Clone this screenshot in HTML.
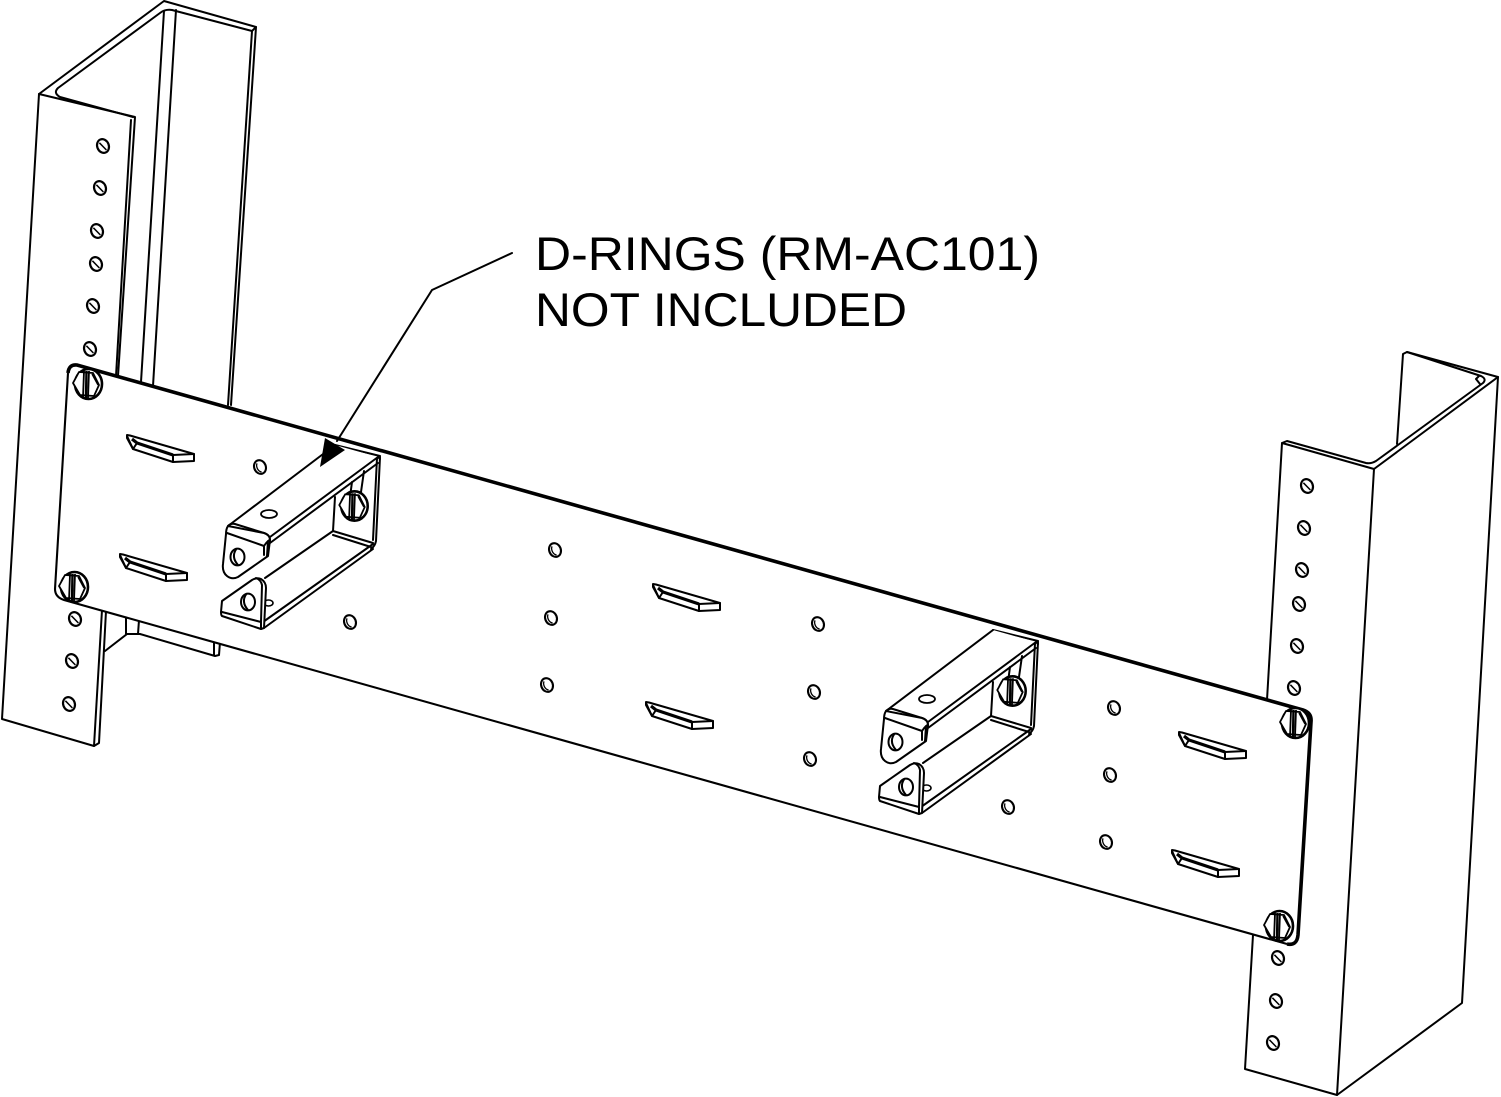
<!DOCTYPE html>
<html>
<head>
<meta charset="utf-8">
<style>
html,body{margin:0;padding:0;background:#fff;width:1501px;height:1097px;overflow:hidden}
svg{display:block;position:absolute;left:0;top:0}
.l{fill:none;stroke:#000;stroke-width:2;stroke-linejoin:round;stroke-linecap:round}
.f{fill:#fff;stroke:#000;stroke-width:2;stroke-linejoin:round}
.t{font-family:"Liberation Sans",Arial,sans-serif;font-size:47px;fill:#000}
</style>
</head>
<body>
<svg width="1501" height="1097" viewBox="0 0 1501 1097" xmlns="http://www.w3.org/2000/svg">
<defs>
  <g id="rh">
    <ellipse cx="0" cy="0" rx="5.8" ry="7" transform="rotate(-22)" fill="#fff" stroke="#000" stroke-width="2.2"/>
    <path d="M-3.6,-3.2 L3.4,4" fill="none" stroke="#000" stroke-width="1.5"/>
  </g>
  <g id="ph">
    <ellipse cx="0" cy="0" rx="5.8" ry="7" transform="rotate(-22)" fill="#fff" stroke="#000" stroke-width="2.1"/>
    <path d="M-3,-3.6 A5,6 -22 0 0 1.6,5" fill="none" stroke="#000" stroke-width="1.3"/>
  </g>
  <g id="sl">
    <path class="f" d="M0,0 L3,0.5 L67,19 L67,26 L46,27 L6,14 L0,3 Z"/>
    <path class="l" d="M0,1 L6,14 M46,20 L46,27 M10,8 L6,14"/>
    <path d="M5,4 L10,8 L46,20" fill="none" stroke="#000" stroke-width="3.2"/>
    <path class="l" d="M46,20 L67,19"/>
  </g>
  <g id="sc">
    <ellipse cx="1.5" cy="0" rx="13.5" ry="15" fill="#fff" stroke="#000" stroke-width="2.6"/>
    <path d="M-14,-1 L-8,-12 L6,-11 L12,1 L7,12 L-7,11 Z" fill="#fff" stroke="#000" stroke-width="1.8" stroke-linejoin="round"/>
    <path d="M-3,-13 L-4,14 M2,-13 L1,14" fill="none" stroke="#000" stroke-width="1.8"/>
    <path d="M-0.5,-13 L-1,14" fill="none" stroke="#000" stroke-width="2.4"/>
    <path d="M5,-10 L11,1" fill="none" stroke="#000" stroke-width="1.4"/>
  </g>
  <g id="br">
    <path class="l" d="M352,482 L350,497 M364,471 L361,492"/>
    <use href="#sc" transform="translate(353,506) scale(.98)"/>
    <path class="l" d="M335,445 L380,456 M337,449 L377,459"/>
    <path d="M228,526 L335,445 L378,457 L270,536 L270,540 L228,533 Z" fill="#fff"/>
    <path class="l" d="M228,526 L335,445"/>
    <path class="l" d="M228,526 Q231,523 235,524 L264,533 Q270,535 270,541"/>
    <path class="l" d="M270,537 L378,457 L380,459 M270,543 L378,463"/>
    <ellipse cx="269" cy="514" rx="8" ry="4" fill="#fff" stroke="#000" stroke-width="1.800"/>
    <path class="f" d="M228,526 Q226,529 226,534 L223,564 Q222,572 227,576 Q232,580 238,577 L268,556 L270,540 Q270,535 264,533 Z"/>
    <path class="l" d="M227,533 L264,546 L264,555 M264,546 Q268,540 270,540 M268,541 L267,556"/>
    <ellipse cx="237.500" cy="557" rx="7" ry="8.400" fill="#fff" stroke="#000" stroke-width="2"/>
    <path class="l" d="M236,549.500 Q231,557 238,565"/>
    <path class="l" d="M380,457 L376,541 Q375,546 371,549 M377,458 L373,540"/>
    <path class="l" d="M335,497 L333,531 L373,543 M333,535 L371,547"/>
    <path class="l" d="M333,531 L265,578 M373,544 L263,622 M373,549 L264,628"/>
    <ellipse cx="268.500" cy="603" rx="4.500" ry="3" fill="#fff" stroke="#000" stroke-width="1.600"/>
    <path class="f" d="M222,601 L252,580 Q257,577 261,579 Q266,582 266,588 L264,628 L261,629 L222,616 Q221,615 221,612 Z"/>
    <path class="l" d="M222,612 L261,622 L261,629 M261,622 L262,585 Q261,580 256,578"/>
    <ellipse cx="248" cy="602" rx="7" ry="8.400" fill="#fff" stroke="#000" stroke-width="2"/>
    <path class="l" d="M246,594.500 Q241,602 248,610"/>
  </g>
</defs>

<rect width="1501" height="1097" fill="#fff"/>

<!-- LEFT RACK -->
<path class="l" d="M39,94 L164,1 L256,27 L231,405"/>
<path class="l" d="M39,94 L135,117 L118,376"/>
<path class="l" d="M39,94 L2,719 L94,746 L99,743 L106,611"/>
<path class="l" d="M94,746 L102,610"/>
<path class="l" d="M131,120 L116,376"/>
<path class="l" d="M133,117 L60,97 Q53,93 58,88 L160,13 Q165,9 172,10 L252,31 L256,27"/>
<path class="l" d="M252,31 L228,405"/>
<path class="l" d="M164,11 L141,382 M176,10 L153,386"/>
<path class="l" d="M105,651 L127,634 L140,634 L215,656 L219,655 L220,642 M126,616 L126,634 M139,620 L138,634 M214,640 L214,655"/>

<use href="#rh" x="103" y="146"/><use href="#rh" x="100" y="188"/><use href="#rh" x="97" y="231"/>
<use href="#rh" x="96" y="264"/><use href="#rh" x="93" y="306"/><use href="#rh" x="90" y="349"/>
<use href="#rh" x="75" y="619"/><use href="#rh" x="72" y="661"/><use href="#rh" x="69" y="704"/>

<!-- RIGHT RACK -->
<path class="l" d="M1267,700 L1282,443 L1287,441 L1366,463 Q1371,464 1376,461 L1483,383 Q1487,379 1481,376 L1407,352 L1403,354 L1397,444"/>
<path class="l" d="M1282,443 L1374,469 L1498,377 L1407,352"/>
<path class="l" d="M1374,469 L1337,1095 L1462,1003 L1498,377"/>
<path class="l" d="M1479,376 L1476,379 L1480,384"/>
<path class="l" d="M1253,935 L1245,1069 L1337,1095"/>
<use href="#rh" x="1307" y="486"/><use href="#rh" x="1304" y="528"/><use href="#rh" x="1302" y="570"/>
<use href="#rh" x="1299" y="604"/><use href="#rh" x="1297" y="646"/><use href="#rh" x="1294" y="688"/>
<use href="#rh" x="1278" y="958"/><use href="#rh" x="1276" y="1001"/><use href="#rh" x="1273" y="1043"/>

<!-- PLATE -->
<path d="M77,365 L1303,710 Q1312,713 1311,722 L1298,935 Q1297,946 1287,944 L64,600 Q55,597 55,589 L68,373 Q69,364 77,365 Z" fill="#fff" stroke="none"/>
<path d="M68,373 L55,589 Q55,597 64,600 L1287,944" fill="none" stroke="#000" stroke-width="2.100"/>
<path d="M68,373 Q69,364 77,365 L1303,710 Q1312,713 1311,722 L1298,935 Q1297,946 1287,944" fill="none" stroke="#000" stroke-width="3.600"/>

<use href="#ph" x="260" y="467"/><use href="#ph" x="350" y="622"/>
<use href="#ph" x="555" y="550"/><use href="#ph" x="551" y="618"/><use href="#ph" x="547" y="685"/>
<use href="#ph" x="818" y="624"/><use href="#ph" x="814" y="692"/><use href="#ph" x="810" y="759"/>
<use href="#ph" x="1114" y="708"/><use href="#ph" x="1110" y="775"/><use href="#ph" x="1106" y="842"/>
<use href="#ph" x="1008" y="807"/>

<use href="#sl" x="127" y="435"/><use href="#sl" x="120" y="554"/>
<use href="#sl" x="653" y="584"/><use href="#sl" x="646" y="702"/>
<use href="#sl" x="1179" y="732"/><use href="#sl" x="1172" y="850"/>

<use href="#sc" x="87" y="384"/><use href="#sc" x="73" y="587"/>
<use href="#sc" x="1294" y="723"/><use href="#sc" x="1278" y="926"/>

<!-- BRACKETS -->
<use href="#br"/>
<use href="#br" x="658" y="185"/>

<!-- LEADER -->
<path class="l" d="M512,253 L432,290 L337,441"/>
<path d="M320,467 L325,438 L345,450 Z" fill="#000"/>
<text class="t" x="535" y="270" textLength="505" lengthAdjust="spacingAndGlyphs">D-RINGS (RM-AC101)</text>
<text class="t" x="535" y="326" textLength="372" lengthAdjust="spacingAndGlyphs">NOT INCLUDED</text>
</svg>
</body>
</html>
